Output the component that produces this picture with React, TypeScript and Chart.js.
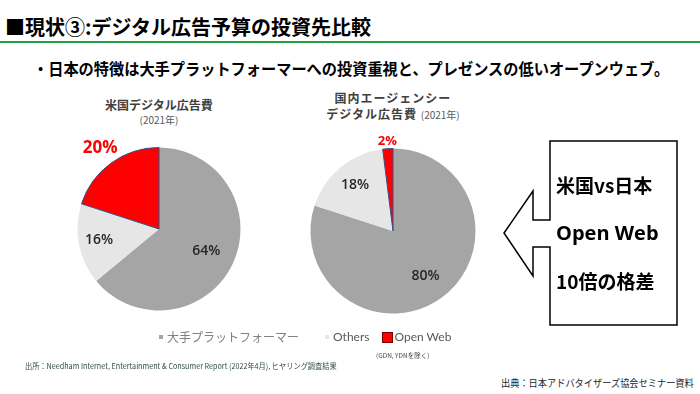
import React, { useEffect, useRef } from "react";
import { Chart, registerables } from "chart.js";

Chart.register(...registerables);

const categories = ["大手プラットフォーマー", "Others", "Open Web"];
const usValues = [64, 16, 20];
const jpValues = [80, 18, 2];
const sliceColors = ["#A5A5A5", "#E7E6E6", "#FF0000"];
const sliceBorders = ["#A5A5A5", "#E7E6E6", "#2F528F"];

const JP = '"Noto Sans CJK JP", "Noto Sans", sans-serif';

const labelPlugin = {
  id: "pieLabels",
  afterDatasetsDraw(chart: any, _args: any, opts: any) {
    const ctx = chart.ctx;
    const meta = chart.getDatasetMeta(0);
    const data = chart.data.datasets[0].data as number[];
    meta.data.forEach((arc: any, i: number) => {
      const p = arc.getProps(["x", "y", "startAngle", "endAngle", "outerRadius"], true);
      const mid = (p.startAngle + p.endAngle) / 2;
      const r = p.outerRadius * opts.factors[i];
      const st = opts.styles[i];
      ctx.save();
      ctx.font = st.font;
      ctx.fillStyle = st.color;
      ctx.textAlign = "center";
      ctx.textBaseline = "middle";
      ctx.fillText(data[i] + "%", p.x + Math.cos(mid) * r, p.y + Math.sin(mid) * r);
      ctx.restore();
    });
  },
};

const PAD = 40;

function Pie(props: { values: number[]; factors: number[]; styles: any[]; cx: number; cy: number; r: number }) {
  const ref = useRef<HTMLCanvasElement>(null);
  const size = props.r * 2 + PAD * 2;
  useEffect(() => {
    const chart = new Chart(ref.current!, {
      type: "pie",
      data: {
        labels: categories,
        datasets: [
          {
            data: props.values,
            backgroundColor: sliceColors,
            borderColor: sliceBorders,
            borderWidth: [0, 0, 1],
          },
        ],
      },
      options: {
        animation: false,
        responsive: false,
        maintainAspectRatio: false,
        layout: { padding: PAD },
        plugins: {
          legend: { display: false },
          tooltip: { enabled: false },
          pieLabels: { factors: props.factors, styles: props.styles },
        } as any,
      },
      plugins: [labelPlugin],
    });
    return () => chart.destroy();
  }, []);
  return (
    <canvas
      ref={ref}
      width={size}
      height={size}
      style={{ position: "absolute", left: props.cx - size / 2, top: props.cy - size / 2, width: size, height: size }}
    />
  );
}

const inner = { font: '600 14px "Open Sans", sans-serif', color: "#262626" };

export default function App() {
  return (
    <div
      style={{
        position: "fixed",
        left: 0,
        top: 0,
        width: 700,
        height: 394,
        background: "#fff",
        overflow: "hidden",
        fontFamily: JP,
      }}
    >
      {/* Header */}
      <div
        style={{
          position: "absolute",
          left: 5,
          top: 15,
          fontSize: 20,
          fontWeight: 700,
          color: "#000",
          lineHeight: "24px",
          whiteSpace: "nowrap",
        }}
      >
        ■現状③:デジタル広告予算の投資先比較
      </div>
      <div style={{ position: "absolute", left: 0, top: 41, width: 700, height: 2, background: "#20A040" }} />
      <div
        style={{
          position: "absolute",
          left: 33,
          top: 58,
          fontSize: 16,
          fontWeight: 700,
          color: "#000",
          lineHeight: "20px",
          whiteSpace: "nowrap",
          transform: "scaleX(0.95)",
          transformOrigin: "left center",
        }}
      >
        ・日本の特徴は大手プラットフォーマーへの投資重視と、プレゼンスの低いオープンウェブ。
      </div>

      {/* Chart titles */}
      <div style={{ position: "absolute", left: 59, width: 200, top: 97, textAlign: "center", lineHeight: "15px" }}>
        <div style={{ fontSize: 12, fontWeight: 700, color: "#404040" }}>米国デジタル広告費</div>
        <div style={{ fontSize: 10, color: "#595959" }}>(2021年)</div>
      </div>
      <div style={{ position: "absolute", left: 293, width: 200, top: 90, textAlign: "center", lineHeight: "16px" }}>
        <div style={{ fontSize: 12, fontWeight: 700, color: "#404040", letterSpacing: 1 }}>国内エージェンシー</div>
        <div style={{ fontSize: 12, fontWeight: 700, color: "#404040", letterSpacing: 1 }}>
          デジタル広告費 <span style={{ fontSize: 10, fontWeight: 400, color: "#595959", letterSpacing: 0 }}>(2021年)</span>
        </div>
      </div>

      <Pie
        values={usValues}
        factors={[0.64, 0.75, 1.23]}
        styles={[inner, inner, { font: 'bold 17px "Open Sans", sans-serif', color: "#FF0000" }]}
        cx={159}
        cy={229}
        r={82}
      />
      <Pie
        values={jpValues}
        factors={[0.67, 0.72, 1.09]}
        styles={[inner, inner, { font: 'bold 13px "Open Sans", sans-serif', color: "#FF0000" }]}
        cx={393}
        cy={231}
        r={83}
      />

      {/* Legend */}
      <div
        style={{
          position: "absolute",
          left: 159,
          top: 329,
          fontSize: 12,
          lineHeight: "16px",
          whiteSpace: "nowrap",
          display: "flex",
          alignItems: "center",
        }}
      >
        <span style={{ display: "inline-block", width: 4, height: 4, background: sliceColors[0], marginRight: 4 }} />
        <span style={{ color: "#7F7F7F" }}>{categories[0]}</span>
        <span style={{ display: "inline-block", width: 4, height: 4, background: sliceColors[1], marginLeft: 26, marginRight: 4 }} />
        <span style={{ color: "#595959", fontFamily: "Lato, sans-serif" }}>{categories[1]}</span>
        <span style={{ display: "inline-block", width: 9, height: 9, background: sliceColors[2], border: "1px solid #7a0000", marginLeft: 13, marginRight: 1 }} />
        <span style={{ color: "#595959", fontFamily: "Lato, sans-serif" }}>{categories[2]}</span>
      </div>
      <div style={{ position: "absolute", left: 376, top: 350, fontSize: 6.5, color: "#404040", whiteSpace: "nowrap" }}>
        (GDN, YDNを除く)
      </div>
      <div
        style={{
          position: "absolute",
          left: 25,
          top: 360,
          fontSize: 8,
          color: "#2E4F3C",
          whiteSpace: "nowrap",
          lineHeight: "11px",
          transform: "scaleX(0.9)",
          transformOrigin: "left center",
        }}
      >
        出所：Needham Internet, Entertainment &amp; Consumer Report (2022年4月), ヒヤリング調査結果
      </div>
      <div
        style={{
          position: "absolute",
          left: 501,
          top: 376,
          fontSize: 10,
          color: "#262626",
          whiteSpace: "nowrap",
          lineHeight: "13px",
          transform: "scaleX(0.92)",
          transformOrigin: "left center",
        }}
      >
        出典：日本アドバタイザーズ協会セミナー資料
      </div>

      {/* Arrow box */}
      <svg width={700} height={394} style={{ position: "absolute", left: 0, top: 0 }}>
        <path
          d="M550,220 L550,141 L677,141 L677,325 L550,325 L550,247 L533,247 L533,276 L504,233 L533,191 L533,220 Z"
          fill="none"
          stroke="#000"
          strokeWidth={1.5}
        />
      </svg>
      <div
        style={{
          position: "absolute",
          left: 556,
          top: 172,
          fontSize: 19,
          fontWeight: 700,
          color: "#000",
          lineHeight: "26px",
          whiteSpace: "nowrap",
        }}
      >
        <div>米国vs日本</div>
        <div style={{ marginTop: 22, fontFamily: '"Open Sans", sans-serif', fontSize: 20 }}>Open Web</div>
        <div style={{ marginTop: 22 }}>10倍の格差</div>
      </div>
    </div>
  );
}
